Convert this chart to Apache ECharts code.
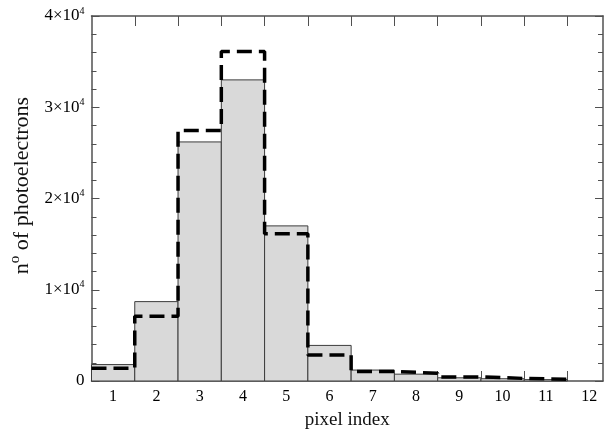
<!DOCTYPE html>
<html><head><meta charset="utf-8">
<script src="https://cdn.jsdelivr.net/npm/echarts@6/dist/echarts.min.js"></script>
<style>html,body{margin:0;padding:0;background:#fff}#c{width:605px;height:438px}</style>
</head><body><div id="c"></div>
<script>
var pixels = [1,2,3,4,5,6,7,8,9,10,11];
var simulated = [1800, 8700, 26200, 33000, 17000, 3900, 1200, 750, 350, 250, 150];
var measured  = [1400, 7100, 27450, 36100, 16150, 2850, 1050, 850, 450, 280, 200];
var xTickLabels = [1,2,3,4,5,6,7,8,9,10,11,12];
var binEdges = [1.5,2.5,3.5,4.5,5.5,6.5,7.5,8.5,9.5,10.5,11.5];

var barData = pixels.map(function(p,i){return [p, simulated[i]];});
var stepData = [];
pixels.forEach(function(p,i){ stepData.push([p-0.5, measured[i]]); stepData.push([p+0.5, measured[i]]); });
stepData.push([pixels[pixels.length-1]+0.5, 0]);

var font = 'Liberation Serif';
var axisColor = '#505050';
var chart = echarts.init(document.getElementById('c'));
chart.setOption({
  animation:false,
  backgroundColor:'#fff',
  grid:{left:89,right:2,top:16,bottom:57},
  xAxis:[{
    type:'value', position:'bottom', min:0.5, max:12.32,
    axisLine:{show:true,onZero:false,lineStyle:{color:axisColor,width:1.5}},
    axisTick:{show:true,inside:true,length:10,customValues:binEdges,lineStyle:{color:axisColor}},
    axisLabel:{customValues:xTickLabels,color:'#000',fontFamily:font,fontSize:16,margin:8},
    splitLine:{show:false},
    name:'pixel index', nameLocation:'middle', nameGap:30,
    nameTextStyle:{color:'#111',fontFamily:font,fontSize:19}
  },{
    type:'value', position:'top', min:0.5, max:12.32,
    axisLine:{show:true,onZero:false,lineStyle:{color:axisColor,width:1.5}},
    axisTick:{show:true,inside:true,length:10,customValues:binEdges,lineStyle:{color:axisColor}},
    axisLabel:{show:false}, splitLine:{show:false}
  }],
  yAxis:[{
    type:'value', position:'left', min:0, max:40000, interval:10000,
    axisLine:{show:true,onZero:false,lineStyle:{color:axisColor,width:1.5}},
    axisTick:{show:true,inside:true,length:8,lineStyle:{color:axisColor}},
    minorTick:{show:true,splitNumber:5,length:5,lineStyle:{color:axisColor}},
    splitLine:{show:false},
    axisLabel:{
      margin:7, color:'#000', fontFamily:font, fontSize:17,
      formatter:function(v){ return v===0 ? '0' : (v/10000)+'×10{sup|4}'; },
      rich:{sup:{fontSize:10,fontFamily:font,color:'#000',verticalAlign:'top',padding:[0,0,10,0]}}
    },
    name:'n{sup|o} of photoelectrons', nameLocation:'middle', nameGap:48, nameRotate:90,
    nameTextStyle:{color:'#111',fontFamily:font,fontSize:22,padding:[0,0,0,26],
      rich:{sup:{fontSize:15,fontFamily:font,color:'#111',padding:[0,0,14,0]}}}
  },{
    type:'value', position:'right', min:0, max:40000, interval:10000,
    axisLine:{show:true,onZero:false,lineStyle:{color:axisColor,width:1.5}},
    axisTick:{show:true,inside:true,length:8,lineStyle:{color:axisColor}},
    minorTick:{show:true,splitNumber:5,length:5,lineStyle:{color:axisColor}},
    axisLabel:{show:false}, splitLine:{show:false}
  }],
  series:[{
    type:'custom', xAxisIndex:0, yAxisIndex:0, data:barData, encode:{x:0,y:1},
    renderItem:function(params, api){
      var x = api.value(0), v = api.value(1);
      var p1 = api.coord([x-0.5, v]), p2 = api.coord([x+0.5, 0]);
      return {type:'rect', shape:{x:p1[0], y:p1[1], width:p2[0]-p1[0], height:p2[1]-p1[1]},
        style:{fill:'#d9d9d9', stroke:'#3c3c3c', lineWidth:1}};
    }
  },{
    type:'line', xAxisIndex:0, yAxisIndex:0, data:stepData, symbol:'none', z:5,
    lineStyle:{color:'#000',width:3.5,type:[15,7]}
  }]
});
</script></body></html>
